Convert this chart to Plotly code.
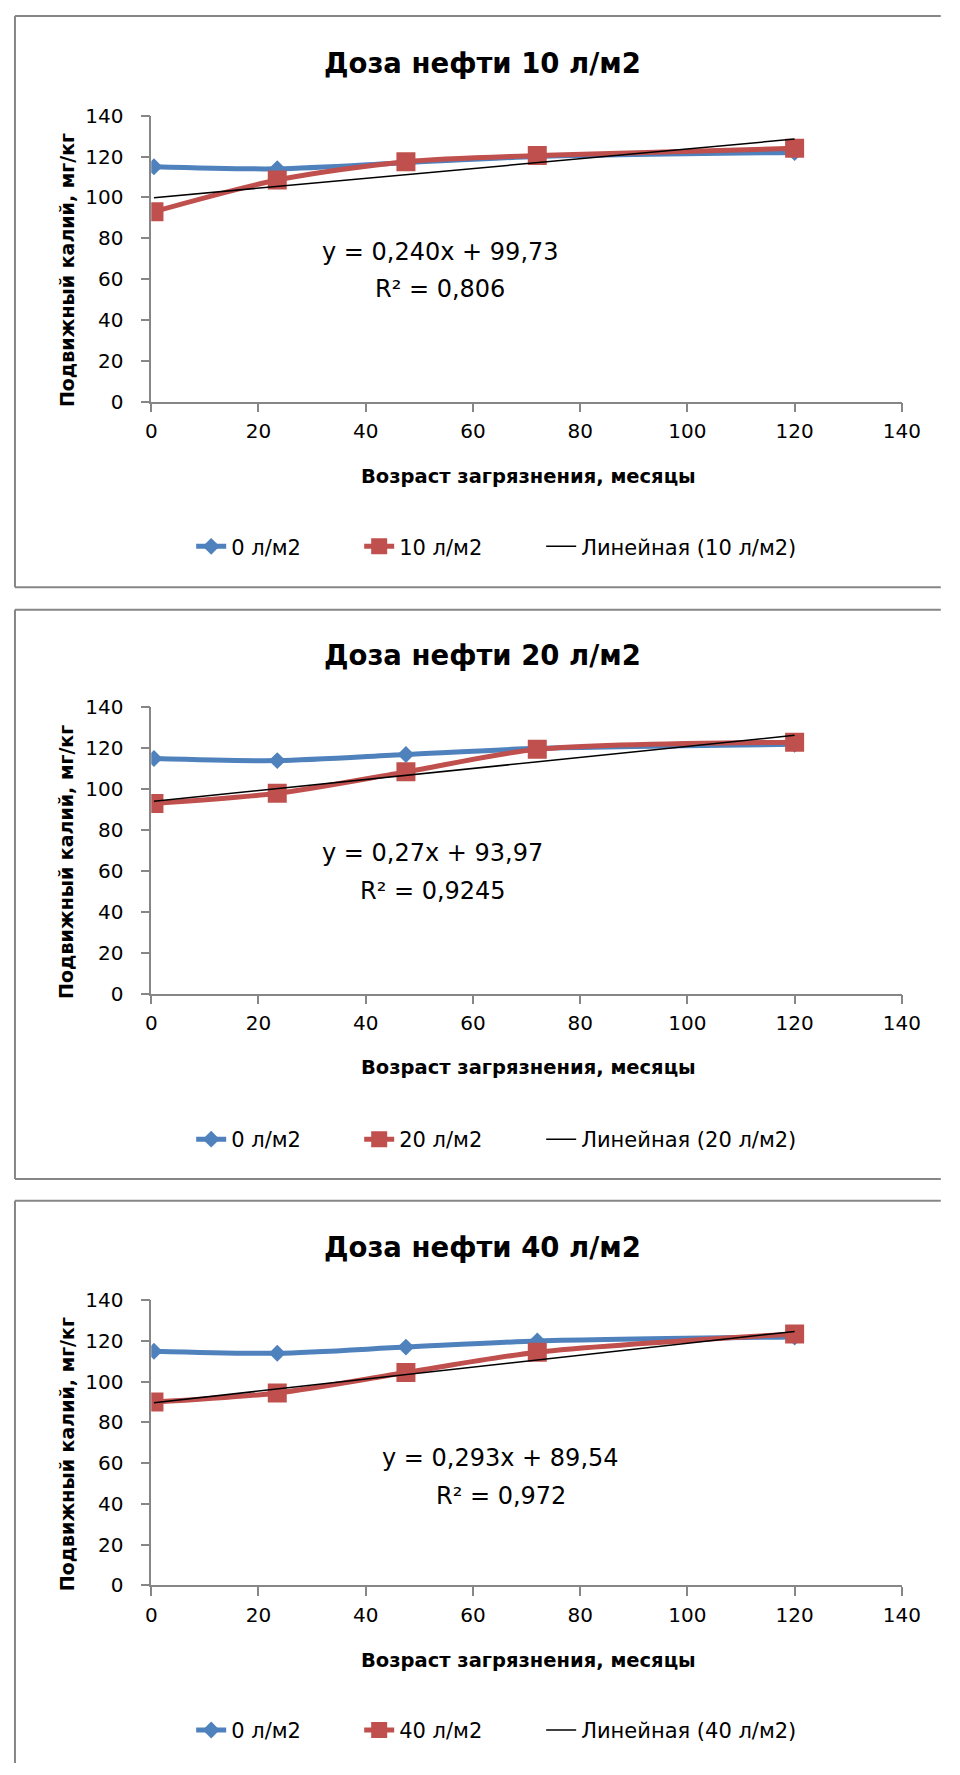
import plotly.graph_objects as go

# ---------------- data ----------------
months = [0.5, 23.5, 47.5, 72, 120]
control_0 = [115, 114, 117, 120, 122]
dose_10 = [93, 108.5, 117.5, 120.5, 124]
dose_20 = [93, 98, 108.5, 119.5, 123]
dose_40 = [90, 94.5, 104.5, 114.5, 123.5]
doses = [10, 20, 40]
dose_series = [dose_10, dose_20, dose_40]
trend_slope = [0.240, 0.27, 0.293]
trend_intercept = [99.73, 93.97, 89.54]
eq_labels = ["y = 0,240x + 99,73", "y = 0,27x + 93,97", "y = 0,293x + 89,54"]
r2_labels = ["R² = 0,806", "R² = 0,9245", "R² = 0,972"]
axis_ticks = [0, 20, 40, 60, 80, 100, 120, 140]
control_name = "0 л/м2"
title_tpl = "Доза нефти {} л/м2"
x_title = "Возраст загрязнения, месяцы"
y_title = "Подвижный калий, мг/кг"

# ---------------- layout helpers ----------------
# The page keeps the browser's default 8px body margin, so the figure is
# sized to make the whole page exactly 960x1775; page coordinates are
# converted to figure (paper) coordinates below.
PAGE_W, PAGE_H = 960, 1775
OFF = 8
W, H = PAGE_W - 2 * OFF, PAGE_H - 2 * OFF


def py(p):
    return 1 - (p - OFF) / H


def px(p):
    return (p - OFF) / W


FONT = "DejaVu Sans"
BLUE = "#4F81BD"
RED = "#C0504D"
AXIS = "#868686"

panels = [
    dict(box=(4, 583), plot=(105, 395), title_y=52, xtitle_y=471, legend_y=542, eq=(446, 243, 281)),
    dict(box=(606, 1183), plot=(705, 995), title_y=652, xtitle_y=1070, legend_y=1143, eq=(438, 853, 891)),
    dict(box=(1205, None), plot=(1306, 1595), title_y=1252, xtitle_y=1671, legend_y=1742, eq=(508, 1466, 1504)),
]

fig = go.Figure()
shapes = []
annotations = []
layout = {}


def frame_line(x0, y0, x1, y1):
    return dict(type="line", xref="paper", yref="paper", x0=px(x0), y0=py(y0), x1=px(x1), y1=py(y1),
                line=dict(color=AXIS, width=2), layer="below")


for i, (dose, series) in enumerate(zip(doses, dose_series)):
    n = "" if i == 0 else str(i + 1)
    leg = "legend" + n
    p = panels[i]
    xa, ya = "x" + n, "y" + n

    fig.add_trace(go.Scatter(
        x=months, y=control_0, name=control_name, mode="lines+markers",
        line=dict(color=BLUE, width=5, shape="spline", smoothing=0.8),
        marker=dict(symbol="diamond", size=13, color=BLUE),
        xaxis=xa, yaxis=ya, legend=leg, legendwidth=123,
    ))
    fig.add_trace(go.Scatter(
        x=months, y=series, name=f"{dose} л/м2", mode="lines+markers",
        line=dict(color=RED, width=5, shape="spline", smoothing=0.8),
        marker=dict(symbol="square", size=19, color=RED),
        xaxis=xa, yaxis=ya, legend=leg, legendwidth=137,
    ))
    tx = [months[0], months[-1]]
    ty = [trend_slope[i] * v + trend_intercept[i] for v in tx]
    fig.add_trace(go.Scatter(
        x=tx, y=ty, name=f"Линейная ({dose} л/м2)", mode="lines",
        line=dict(color="black", width=1.5),
        xaxis=xa, yaxis=ya, legend=leg, legendwidth=225,
    ))

    common = dict(
        range=[0, 140], tickvals=axis_ticks, ticks="outside", ticklen=9,
        tickwidth=1.5, tickcolor=AXIS, showline=True, linecolor=AXIS, linewidth=1.5,
        showgrid=False, zeroline=False, tickfont=dict(family=FONT, size=20, color="black"),
        fixedrange=True,
    )
    layout["xaxis" + n] = dict(common, domain=[px(149), px(920)], anchor=ya, ticklabelstandoff=2)
    layout["yaxis" + n] = dict(common, domain=[py(p["plot"][1]), py(p["plot"][0])], anchor=xa,
                               ticklabelstandoff=13)
    layout[leg] = dict(
        orientation="h", x=px(190), xanchor="left", y=py(p["legend_y"]), yanchor="middle",
        font=dict(family=FONT, size=21, color="black"), bgcolor="rgba(0,0,0,0)",
        itemwidth=30, traceorder="normal",
    )

    top, bottom = p["box"]
    shapes.append(frame_line(9, top, PAGE_W, top))
    shapes.append(frame_line(9, top, 9, bottom if bottom is not None else PAGE_H))
    if bottom is not None:
        shapes.append(frame_line(9, bottom, PAGE_W, bottom))

    annotations.append(dict(text="<b>" + title_tpl.format(dose) + "</b>", xref="paper", yref="paper",
                            x=px(489), y=py(p["title_y"]), xanchor="center", yanchor="middle",
                            showarrow=False, font=dict(family=FONT, size=27.5, color="black")))
    annotations.append(dict(text="<b>" + x_title + "</b>", xref="paper", yref="paper",
                            x=px(537), y=py(p["xtitle_y"]), xanchor="center", yanchor="middle",
                            showarrow=False, font=dict(family=FONT, size=19.5, color="black")))
    yc = (p["plot"][0] + p["plot"][1]) / 2 + 12
    annotations.append(dict(text="<b>" + y_title + "</b>", xref="paper", yref="paper",
                            x=px(62), y=py(yc), xanchor="center", yanchor="middle", textangle=-90,
                            showarrow=False, font=dict(family=FONT, size=19, color="black")))
    ex, ey1, ey2 = p["eq"]
    annotations.append(dict(text=eq_labels[i], xref="paper", yref="paper",
                            x=px(ex), y=py(ey1), xanchor="center", yanchor="middle",
                            showarrow=False, font=dict(family=FONT, size=24, color="black")))
    annotations.append(dict(text=r2_labels[i], xref="paper", yref="paper",
                            x=px(ex), y=py(ey2), xanchor="center", yanchor="middle",
                            showarrow=False, font=dict(family=FONT, size=24, color="black")))

fig.update_layout(
    width=W, height=H, margin=dict(l=0, r=0, t=0, b=0),
    paper_bgcolor="white", plot_bgcolor="white",
    shapes=shapes, annotations=annotations, **layout,
)

fig.write_html("out.html", config={"displayModeBar": False})
